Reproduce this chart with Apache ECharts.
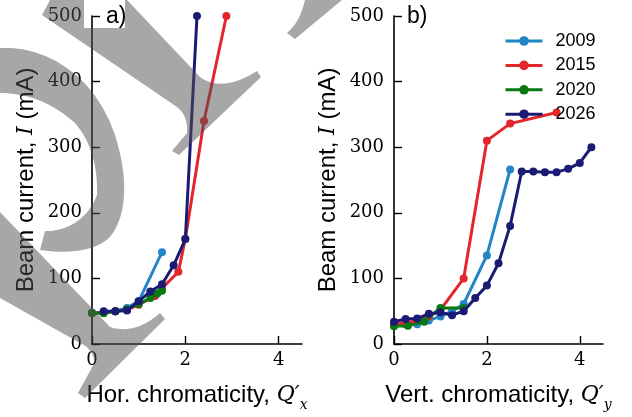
<!DOCTYPE html>
<html>
<head>
<meta charset="UTF-8">
<title>Beam current vs chromaticity</title>
<script src="https://cdn.jsdelivr.net/npm/echarts@6/dist/echarts.min.js"></script>
<style>
  html, body { margin: 0; padding: 0; background: #fff; }
  #chart { width: 632px; height: 417px; }
</style>
</head>
<body>
<div id="chart"></div>
<script>
// panel a) horizontal chromaticity
var hx2009 = [0, 0.25, 0.5, 0.75, 1.0, 1.5];
var hy2009 = [48, 48, 50, 55, 65, 140];
var hx2015 = [0, 0.25, 0.5, 0.75, 1.0, 1.35, 1.5, 1.85, 2.0, 2.4, 2.88];
var hy2015 = [47, 48, 50, 52, 60, 73, 85, 110, 160, 340, 500];
var hx2020 = [0, 0.25, 0.5, 0.75, 1.0, 1.25, 1.4, 1.5];
var hy2020 = [47, 47, 50, 53, 61, 70, 77, 81];
var hx2026 = [0.25, 0.5, 0.75, 1.0, 1.25, 1.5, 1.75, 2.0, 2.25];
var hy2026 = [50, 50, 51, 65, 80, 91, 120, 160, 500];

// panel b) vertical chromaticity
var vx2009 = [0, 0.25, 0.5, 0.75, 1.0, 1.25, 1.5, 2.0, 2.5];
var vy2009 = [28, 30, 30, 36, 42, 50, 61, 135, 266];
var vx2015 = [0, 0.25, 0.5, 0.75, 1.0, 1.5, 2.0, 2.5, 3.5];
var vy2015 = [30, 32, 36, 42, 52, 100, 310, 336, 353];
var vx2020 = [0, 0.3, 0.65, 1.0, 1.5];
var vy2020 = [27, 28, 34, 55, 55];
var vx2026 = [0, 0.25, 0.5, 0.75, 1.0, 1.25, 1.5, 1.75, 2.0, 2.25, 2.5, 2.75, 3.0, 3.25, 3.5, 3.75, 4.0, 4.25];
var vy2026 = [34, 38, 39, 46, 48, 44, 50, 70, 89, 123, 180, 263, 263, 262, 262, 267, 276, 300];

var years = ['2009', '2015', '2020', '2026'];
var colors = ['#2385c6', '#e3262c', '#08780f', '#1b1b75'];
var xTicks = [0, 2, 4];
var yTicks = [0, 100, 200, 300, 400, 500];

function pairs(xs, ys) {
    var out = [];
    for (var i = 0; i < xs.length; i++) out.push([xs[i], ys[i]]);
    return out;
}

var serif = 'DejaVu Serif, serif';
var sans = 'Liberation Sans, sans-serif';

function makeX(idx, label, sub) {
    return {
        type: 'value', gridIndex: idx, min: 0, max: 4.5, interval: 2,
        name: '{t|' + label + '}{i|Q′}{s|' + sub + '}',
        nameLocation: 'middle', nameGap: 34,
        nameTextStyle: {
            rich: {
                t: { fontFamily: sans, fontSize: 24, color: '#000', lineHeight: 34 },
                i: { fontFamily: serif, fontStyle: 'italic', fontSize: 22, color: '#000', lineHeight: 34 },
                s: { fontFamily: serif, fontStyle: 'italic', fontSize: 14, color: '#000', verticalAlign: 'bottom', lineHeight: 16 }
            }
        },
        axisLine: { lineStyle: { color: '#000', width: 1.6 } },
        axisTick: { inside: true, length: 8, customValues: xTicks, lineStyle: { color: '#000', width: 1.4 } },
        axisLabel: { customValues: xTicks, margin: 7, fontFamily: serif, fontSize: 18, color: '#000' },
        splitLine: { show: false }
    };
}

function makeY(idx) {
    return {
        type: 'value', gridIndex: idx, min: 0, max: 500, interval: 100,
        name: '{t|Beam current, }{i|I}{t| (mA)}',
        nameLocation: 'middle', nameGap: 54,
        nameTextStyle: {
            rich: {
                t: { fontFamily: sans, fontSize: 24, color: '#000' },
                i: { fontFamily: serif, fontStyle: 'italic', fontSize: 22, color: '#000' }
            }
        },
        axisLine: { show: true, lineStyle: { color: '#000', width: 1.6 } },
        axisTick: { show: true, inside: true, length: 8, customValues: yTicks, lineStyle: { color: '#000', width: 1.4 } },
        axisLabel: { customValues: yTicks, margin: 10, fontFamily: serif, fontSize: 18, color: '#000' },
        splitLine: { show: false }
    };
}

var panelA = [pairs(hx2009, hy2009), pairs(hx2015, hy2015), pairs(hx2020, hy2020), pairs(hx2026, hy2026)];
var panelB = [pairs(vx2009, vy2009), pairs(vx2015, vy2015), pairs(vx2020, vy2020), pairs(vx2026, vy2026)];

var series = [];
[panelA, panelB].forEach(function (panel, p) {
    panel.forEach(function (d, k) {
        series.push({
            name: years[k], type: 'line', xAxisIndex: p, yAxisIndex: p,
            data: d, symbol: 'circle', symbolSize: 8, clip: true,
            itemStyle: { color: colors[k] },
            lineStyle: { color: colors[k], width: 3 },
            z: 2 + k
        });
    });
});

// watermark outline helper: list of segments, 'L' points or bezier runs
function outline(parts) {
    var pts = [];
    var cur = null;
    parts.forEach(function (s) {
        if (s.length === 2) { pts.push(s); cur = s; return; }
        var n = 12;
        for (var i = 1; i <= n; i++) {
            var t = i / n, u = 1 - t, x, y;
            if (s.length === 4) {
                x = u * u * cur[0] + 2 * u * t * s[0] + t * t * s[2];
                y = u * u * cur[1] + 2 * u * t * s[1] + t * t * s[3];
            } else {
                x = u * u * u * cur[0] + 3 * u * u * t * s[0] + 3 * u * t * t * s[2] + t * t * t * s[4];
                y = u * u * u * cur[1] + 3 * u * u * t * s[1] + 3 * u * t * t * s[3] + t * t * t * s[5];
            }
            pts.push([x, y]);
        }
        cur = [s[s.length - 2], s[s.length - 1]];
    });
    return pts;
}

var shade = 'rgba(80,80,80,0.5)';
var marks = [
    outline([[42, 15], [50, 0], [84, 0], [84, 28], [125, 28], [125, 0], [127, 0], [200, 77],
             [222, 93, 257, 71], [261, 77], [179, 155], [172, 151], [187, 133], [188, 115, 177, 107]]),
    outline([[0, 48], [45, 45, 95, 75, 115, 135], [128, 175, 128, 215, 110, 237], [95, 252, 65, 254, 40, 250],
             [45, 231], [70, 232, 90, 215, 97, 195], [98, 165, 90, 140, 75, 123], [55, 105, 30, 93, 0, 93]]),
    outline([[0, 212], [110, 327], [135, 335, 160, 313], [165, 319], [85, 398], [78, 393], [95, 362],
             [92, 348, 80, 343], [0, 298]]),
    outline([[287, 33], [295, 39], [342, 0], [305, 0], [300, 22, 287, 33]])
];

var graphics = [
    { type: 'text', x: 106, y: 5, z: 120,
      style: { text: 'a)', fontFamily: sans, fontSize: 23, fill: '#000' } },
    { type: 'text', x: 407, y: 5, z: 120,
      style: { text: 'b)', fontFamily: sans, fontSize: 23, fill: '#000' } }
];
marks.forEach(function (p) {
    graphics.push({ type: 'polygon', z: 100, silent: true, shape: { points: p }, style: { fill: shade } });
});

var chart = echarts.init(document.getElementById('chart'), null, { renderer: 'canvas' });
chart.setOption({
    animation: false,
    backgroundColor: '#fff',
    grid: [
        { left: 92, top: 16, width: 210, height: 330 },
        { left: 394, top: 16, width: 209, height: 330 }
    ],
    xAxis: [makeX(0, 'Hor. chromaticity, ', 'x'), makeX(1, 'Vert. chromaticity, ', 'y')],
    yAxis: [makeY(0), makeY(1)],
    legend: {
        orient: 'vertical', left: 499, top: 27,
        itemWidth: 37, itemHeight: 12, itemGap: 6.4,
        lineStyle: { width: 3 },
        textStyle: { fontFamily: sans, fontSize: 18, color: '#000', padding: [0, 0, 0, 8] },
        data: years
    },
    series: series,
    graphic: graphics
});
</script>
</body>
</html>
